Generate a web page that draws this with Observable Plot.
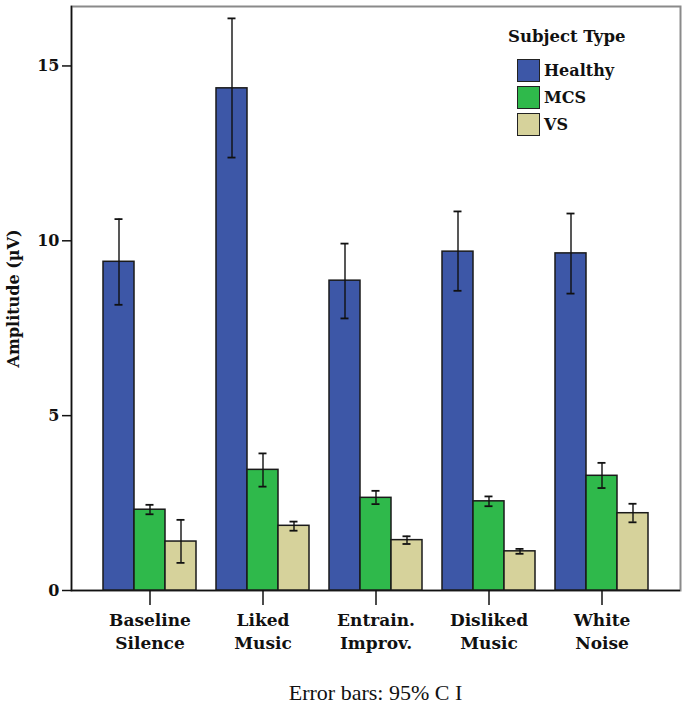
<!DOCTYPE html>
<html>
<head>
<meta charset="utf-8">
<script src="https://cdn.jsdelivr.net/npm/d3@7"></script>
<script src="https://cdn.jsdelivr.net/npm/@observablehq/plot@0.6"></script>
<style>
  html, body { margin: 0; padding: 0; background: #fff; }
  #wrap { position: relative; width: 686px; height: 707px; }
  #wrap svg { position: absolute; left: 0; top: 0; }
  .legend { position: absolute; left: 0; top: 0; font-family: "DejaVu Serif", serif; color: #111; }
  .legend .title { position: absolute; left: 508px; top: 27px; font-family: "DejaVu Serif", serif; font-weight: bold; font-size: 16.5px; white-space: nowrap; }
  .legend .item { position: absolute; left: 517px; height: 24px; display: flex; align-items: center; white-space: nowrap; }
  .legend .sw { width: 21px; height: 21px; border: 1.5px solid #222; margin-right: 4px; box-sizing: content-box; }
  .legend .lab { font-family: "DejaVu Serif", serif; font-size: 16px; font-weight: bold; }
  .caption { position: absolute; left: 71px; width: 609px; top: 680px; text-align: center;
    font-family: "Liberation Serif", serif; font-size: 22px; color: #111; }
</style>
</head>
<body>
<div id="wrap"></div>
<script>
// ---- data ----
const categories = ["Baseline Silence", "Liked Music", "Entrain. Improv.", "Disliked Music", "White Noise"];
const tickLabels = ["Baseline\nSilence", "Liked\nMusic", "Entrain.\nImprov.", "Disliked\nMusic", "White\nNoise"];
const subjects = ["Healthy", "MCS", "VS"];
const colors = ["#3D57A7", "#2FB94B", "#D6D29B"];

const healthyMean = [9.40, 14.36, 8.86, 9.69, 9.64];
const healthyLo   = [8.17, 12.38, 7.78, 8.57, 8.49];
const healthyHi   = [10.62, 16.36, 9.92, 10.84, 10.78];

const mcsMean = [2.31, 3.45, 2.65, 2.55, 3.28];
const mcsLo   = [2.18, 2.97, 2.47, 2.41, 2.93];
const mcsHi   = [2.45, 3.92, 2.85, 2.69, 3.65];

const vsMean = [1.40, 1.85, 1.44, 1.12, 2.21];
const vsLo   = [0.79, 1.71, 1.33, 1.05, 1.95];
const vsHi   = [2.02, 1.97, 1.55, 1.19, 2.48];

const yTicks = [0, 5, 10, 15];
const yMax = 16.7;
const yLabel = "Amplitude (\u00B5V)";
const legendTitle = "Subject Type";
const captionText = "Error bars: 95% C I";

// ---- build table ----
const series = [
  {subject: "Healthy", mean: healthyMean, lo: healthyLo, hi: healthyHi},
  {subject: "MCS", mean: mcsMean, lo: mcsLo, hi: mcsHi},
  {subject: "VS", mean: vsMean, lo: vsLo, hi: vsHi}
];
const data = [];
categories.forEach((c, i) => {
  series.forEach(s => data.push({category: c, subject: s.subject, value: s.mean[i], lo: s.lo[i], hi: s.hi[i]}));
});
const labelOf = new Map(categories.map((c, i) => [c, tickLabels[i]]));

const W = 686, H = 668;
const margins = {marginTop: 6, marginLeft: 71, marginRight: 6, marginBottom: 78};
const font = "DejaVu Serif, serif";

// Base layer: frame + y axis
const base = Plot.plot({
  width: W, height: H, ...margins,
  style: {fontFamily: font, background: "white", overflow: "visible"},
  y: {domain: [0, yMax]},
  marks: [
    Plot.frame({stroke: "#8a8a8a", strokeWidth: 2}),
    Plot.frame({anchor: "left", stroke: "#111", strokeWidth: 1.5}),
    Plot.ruleY([0], {stroke: "#111", strokeWidth: 1.5}),
    Plot.axisY({
      ticks: yTicks, tickSize: 9, tickPadding: 3, tickFormat: d => String(d),
      fontSize: 16, fontWeight: "bold", stroke: "#111", strokeWidth: 1.5, fill: "#111",
      label: yLabel, labelAnchor: "center", labelOffset: 64, labelArrow: "none"
    })
  ]
});

// Bars layer: faceted groups
const bars = Plot.plot({
  width: W, height: H, ...margins,
  style: {fontFamily: font, background: "transparent", overflow: "visible"},
  fx: {domain: categories, paddingInner: 0.181, paddingOuter: 0.273, label: null},
  x: {domain: subjects, padding: 0, axis: null},
  y: {domain: [0, yMax], axis: null},
  color: {domain: subjects, range: colors},
  marks: [
    Plot.barY(data, {fx: "category", x: "subject", y: "value", fill: "subject", stroke: "#1a1a1a", strokeWidth: 1.5}),
    Plot.ruleX(data, {fx: "category", x: "subject", y1: "lo", y2: "hi", stroke: "#111", strokeWidth: 1.4}),
    Plot.tickY(data, {fx: "category", x: "subject", y: "lo", stroke: "#111", strokeWidth: 1.8, insetLeft: 11.5, insetRight: 11.5}),
    Plot.tickY(data, {fx: "category", x: "subject", y: "hi", stroke: "#111", strokeWidth: 1.8, insetLeft: 11.5, insetRight: 11.5}),
    Plot.axisFx({
      anchor: "bottom", tickSize: 15, tickPadding: 4, tickFormat: d => labelOf.get(d),
      fontSize: 17, fontWeight: "bold", lineHeight: 1.35, stroke: "#111", strokeWidth: 1.5, fill: "#111", label: null
    })
  ]
});

const wrap = document.getElementById("wrap");
wrap.appendChild(base);
wrap.appendChild(bars);

// Legend
const lg = document.createElement("div");
lg.className = "legend";
const t = document.createElement("div");
t.className = "title";
t.textContent = legendTitle;
lg.appendChild(t);
subjects.forEach((s, i) => {
  const it = document.createElement("div");
  it.className = "item";
  it.style.top = (58 + i * 27) + "px";
  const sw = document.createElement("div");
  sw.className = "sw";
  sw.style.background = colors[i];
  it.appendChild(sw);
  const tx = document.createElement("span");
  tx.className = "lab";
  tx.textContent = s;
  it.appendChild(tx);
  lg.appendChild(it);
});
wrap.appendChild(lg);

const cap = document.createElement("div");
cap.className = "caption";
cap.textContent = captionText;
wrap.appendChild(cap);
</script>
</body>
</html>
